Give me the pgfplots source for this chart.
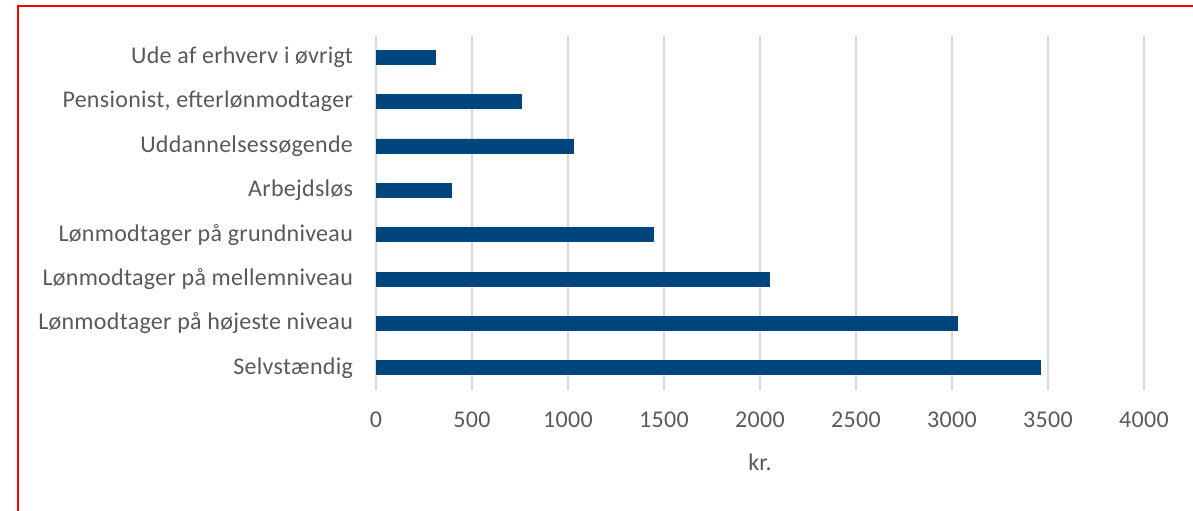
\documentclass[border=0pt]{standalone}
\usepackage{pgfplots}
\pgfplotsset{compat=1.18}
\usepackage{fontspec}
\setmainfont{Carlito}[LetterSpace=1.2]
\definecolor{barblue}{RGB}{0,69,124}
\definecolor{txtgray}{RGB}{89,89,89}
\definecolor{gridgray}{RGB}{217,217,217}
\begin{document}
\begin{tikzpicture}
\useasboundingbox (0,0) rectangle (596.5pt,-255pt);
\draw[red, line width=1pt] (9pt,-256pt) -- (9pt,-2.75pt) -- (597pt,-2.75pt);
\begin{axis}[
  at={(188pt,-195pt)}, anchor=south west,
  scale only axis, width=384pt, height=177.5pt,
  xbar, bar width=7pt,
  xmin=0, xmax=4000, ymin=-0.5, ymax=7.5,
  ytick={0,...,7},
  yticklabels={Selvstændig, Lønmodtager på højeste niveau, Lønmodtager på mellemniveau, Lønmodtager på grundniveau, Arbejdsløs, Uddannelsessøgende, {Pensionist, efterlønmodtager}, Ude af erhverv i øvrigt},
  xtick={0,500,...,4000},
  xmajorgrids, grid style={gridgray, line width=1pt},
  axis line style={draw=none},
  major tick length=0pt,
  /pgf/number format/assume math mode=true,
  /pgf/number format/set thousands separator={},
  tick label style={font=\fontsize{12}{14}\selectfont, text=txtgray},
  yticklabel style={anchor=east, xshift=-8pt},
  xticklabel style={anchor=center, yshift=-15pt},
  xlabel={kr.},
  xlabel style={at={(axis description cs:0.5,-0.203)}, anchor=center, font=\fontsize{12}{14}\selectfont, text=txtgray},
  clip=false,
]
\addplot[fill=barblue, draw=barblue] coordinates {
(3462,0) (3028,1) (2050,2) (1445,3) (393,4) (1030,5) (755,6) (308,7)
};
\end{axis}
\end{tikzpicture}
\end{document}
